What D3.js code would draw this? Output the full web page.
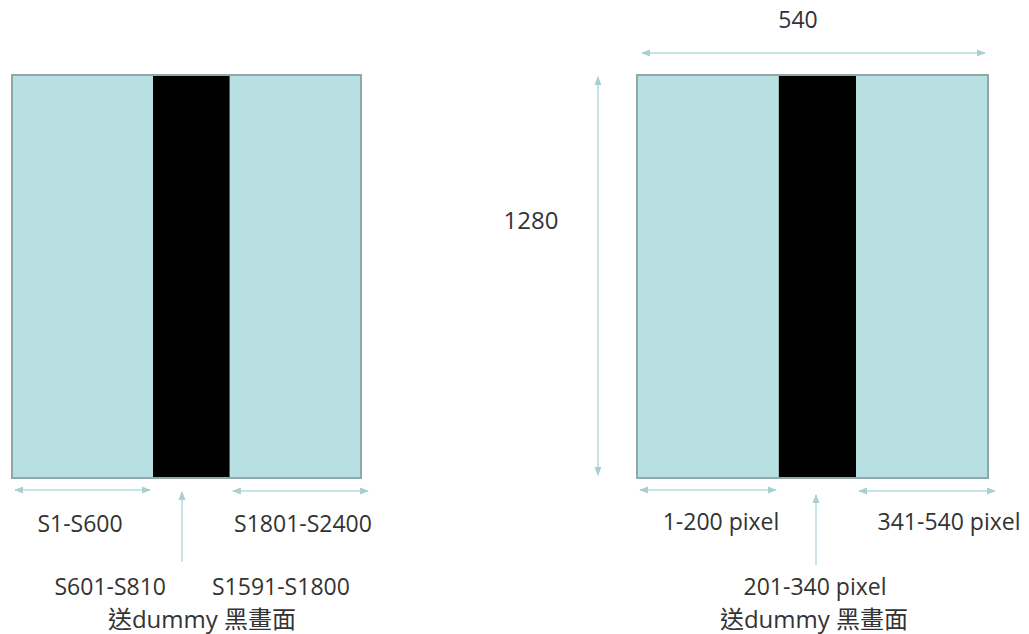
<!DOCTYPE html>
<html>
<head>
<meta charset="utf-8">
<script src="https://cdn.jsdelivr.net/npm/d3@7"></script>
<style>
	html, body { margin: 0; padding: 0; background: #fff; }
	text { font-family: "Open Sans", "Noto Sans CJK TC", sans-serif; fill: #333; }
</style>
</head>
<body>
<svg id="chart" width="1029" height="634"></svg>
<script>
// segment boundaries along the panel width (fraction of width) and their kind
var segmentBreaks = [0, 0.404, 0.624, 1];
var segmentKinds = ["data", "dummy", "data"];

// left panel: source lines
var leftRangeLabels = ["S1-S600", "S1801-S2400"];
var leftDummyLabels = ["S601-S810", "S1591-S1800"];

// right panel: pixels
var rightRangeLabels = ["1-200 pixel", "341-540 pixel"];
var rightDummyLabels = ["201-340 pixel"];

var dummyNote = "送dummy 黑畫面";
var widthLabel = "540";
var heightLabel = "1280";

var LIGHT = "#b8dfe2",
	BORDER = "#8fa8aa",
	ARROW = "#c8e4e5",
	HEAD = "#a9cfd2";

var svg = d3.select("#chart");

var yScale = d3.scaleLinear().domain([0, 1]).range([75, 478]);

var defs = svg.append("defs");
function addMarker(id, orient)
{
	defs.append("marker")
		.attr("id", id)
		.attr("viewBox", "0 0 10 10")
		.attr("refX", 9).attr("refY", 5)
		.attr("markerWidth", 9).attr("markerHeight", 9)
		.attr("markerUnits", "userSpaceOnUse")
		.attr("orient", orient)
		.append("path")
			.attr("d", "M0,1 L10,5 L0,9 Z")
			.style("fill", HEAD);
}
addMarker("head", "auto");
addMarker("head2", "auto-start-reverse");

function arrow(x1, y1, x2, y2, both)
{
	var line = svg.append("line")
		.attr("x1", x1).attr("y1", y1)
		.attr("x2", x2).attr("y2", y2)
		.style("stroke", ARROW)
		.style("stroke-width", 2)
		.attr("marker-end", "url(#head)");
	if(both)
		line.attr("marker-start", "url(#head2)");
}

function label(x, y, txt, anchor, size)
{
	svg.append("text")
		.attr("x", x).attr("y", y)
		.attr("text-anchor", anchor || "middle")
		.style("font-size", (size || 23) + "px")
		.text(txt);
}

function drawPanel(xScale)
{
	var g = svg.append("g");
	var segs = d3.range(segmentKinds.length).map(function(i)
	{
		return { kind: segmentKinds[i], from: segmentBreaks[i], to: segmentBreaks[i + 1] };
	});

	g.selectAll(".seg")
		.data(segs)
		.enter()
		.append("rect")
			.attr("class", "seg")
			.attr("x", function(d) { return xScale(d.from); })
			.attr("width", function(d) { return xScale(d.to) - xScale(d.from); })
			.attr("y", yScale(0))
			.attr("height", yScale(1) - yScale(0))
			.style("fill", function(d) { return d.kind === "dummy" ? "#000" : LIGHT; });

	g.append("rect")
		.attr("x", xScale(0)).attr("y", yScale(0))
		.attr("width", xScale(1) - xScale(0))
		.attr("height", yScale(1) - yScale(0))
		.style("fill", "none")
		.style("stroke", BORDER)
		.style("stroke-width", 2);

	// range arrows below the panel
	arrow(xScale(segmentBreaks[1]) - 3, 490, xScale(0) + 3, 490, true);
	arrow(xScale(segmentBreaks[2]) + 3, 491, xScale(1) + 7, 491, true);
}

var xLeft = d3.scaleLinear().domain([0, 1]).range([12, 361]);
var xRight = d3.scaleLinear().domain([0, 1]).range([637, 988]);

drawPanel(xLeft);
drawPanel(xRight);

// left panel labels
label(xLeft(0) + 68, 532, leftRangeLabels[0]);
label(xLeft(1) - 58, 532, leftRangeLabels[1]);
arrow(182, 562, 182, 492);
label(166, 595, leftDummyLabels[0], "end");
label(212, 595, leftDummyLabels[1], "start");
label(202, 628, dummyNote, "middle", 24);

// right panel labels
label(xRight(0) + 84, 530, rightRangeLabels[0]);
label(xRight(1) - 39, 530, rightRangeLabels[1]);
arrow(816, 565, 816, 495);
label(815, 595, rightDummyLabels[0]);
label(814, 628, dummyNote, "middle", 24);

// dimensions
arrow(642, 53, 985, 53, true);
label(798, 28, widthLabel);
arrow(598, 475, 598, 77, true);
label(531, 229, heightLabel, "middle", 24);
</script>
</body>
</html>
